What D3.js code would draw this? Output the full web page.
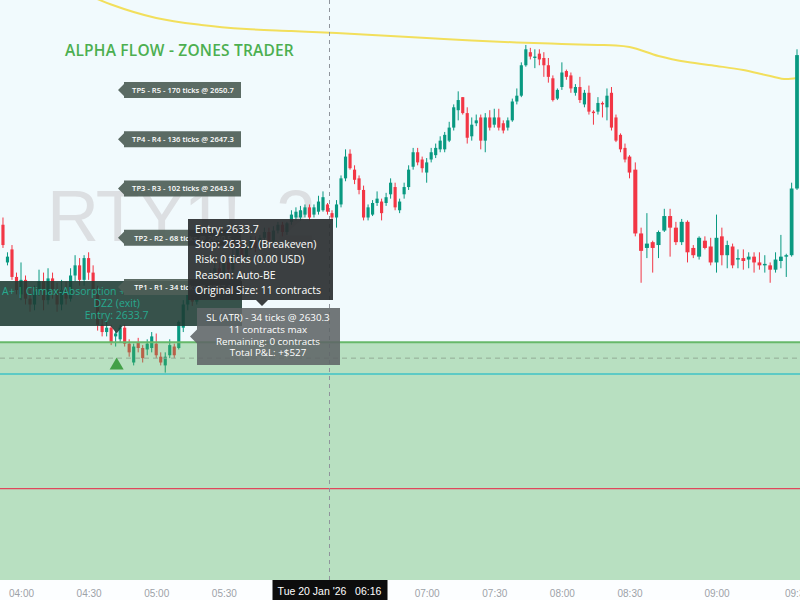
<!DOCTYPE html>
<html><head><meta charset="utf-8">
<script src="https://cdn.jsdelivr.net/npm/d3@7/dist/d3.min.js"></script>
<style>html,body{margin:0;padding:0;background:#f1fafd;}svg{display:block;}</style>
</head><body>
<svg id="chart" width="800" height="600"></svg>
<script>
// ---------------- DATA ----------------
const firstBar = "2026-01-20T03:52:00";
const barMinutes = 2;
const opens = [2641.4,2638.8,2639.7,2637.8,2636.6,2637.6,2636.3,2635.9,2636.8,2637.5,2636.2,2637.7,2636.9,2635.9,2636.9,2636.3,2637.9,2638.6,2637.6,2639.1,
2638.1,2636.9,2634.5,2634.0,2634.3,2633.7,2633.5,2634.3,2633.2,2631.9,2633.3,2632.9,2632.8,2632.9,2633.2,2632.3,2631.7,2632.4,2633.0,2632.9,
2634.3,2635.9,2636.6,2636.1,2637.0,2637.6,2636.9,2637.9,2638.4,2637.9,2638.8,2638.3,2639.3,2639.8,2639.2,2639.9,2640.3,2639.8,2640.5,2640.9,
2640.3,2641.0,2641.4,2640.9,2641.6,2641.9,2641.9,2642.1,2642.6,2642.1,2642.3,2642.4,2642.8,2642.2,2641.9,2642.8,2644.6,2646.3,2645.2,2644.6,
2643.8,2641.9,2642.1,2642.9,2643.0,2642.9,2643.5,2644.0,2642.4,2643.5,2644.0,2645.4,2646.4,2645.9,2645.0,2645.9,2646.2,2646.6,2646.6,2647.2,
2648.1,2649.3,2650.2,2649.1,2647.5,2648.4,2648.8,2647.2,2648.8,2648.3,2648.8,2648.4,2648.1,2648.6,2649.9,2650.3,2652.4,2653.3,2652.9,2653.2,
2652.9,2652.4,2651.5,2650.1,2650.9,2652.0,2651.7,2650.5,2650.9,2649.7,2650.5,2649.2,2649.2,2649.8,2649.5,2650.5,2648.8,2647.6,2646.7,2646.1,
2645.2,2640.8,2639.8,2640.2,2640.0,2641.0,2642.0,2641.2,2640.2,2641.6,2639.8,2639.2,2640.3,2639.9,2638.8,2640.6,2639.3,2639.9,2639.0,2639.1,
2639.0,2639.2,2638.8,2638.6,2638.6,2638.3,2638.9,2639.2,2639.3,2643.9];
const highs = [2641.9,2639.5,2640.0,2638.1,2638.8,2637.9,2636.9,2637.2,2638.3,2638.1,2638.4,2638.1,2637.4,2637.6,2637.5,2638.4,2639.3,2639.1,2639.3,2639.5,
2638.6,2637.2,2635.0,2634.7,2634.5,2634.1,2634.5,2634.5,2633.5,2633.2,2633.6,2633.1,2633.5,2634.0,2633.9,2632.6,2632.6,2633.5,2633.2,2634.8,
2636.2,2636.9,2636.9,2637.3,2637.9,2637.9,2638.3,2638.8,2638.8,2639.1,2639.1,2639.7,2640.1,2640.1,2640.2,2640.6,2640.6,2640.7,2641.2,2641.2,
2641.3,2641.6,2641.6,2641.6,2642.4,2642.6,2642.7,2642.8,2642.8,2642.8,2643.4,2643.7,2642.9,2642.4,2643.1,2644.8,2646.6,2646.6,2645.5,2644.8,
2644.1,2642.8,2643.1,2643.7,2643.2,2643.6,2644.6,2644.3,2643.2,2644.3,2645.5,2646.7,2646.7,2646.1,2646.0,2646.7,2647.0,2647.5,2647.8,2648.5,
2649.7,2650.6,2650.2,2649.5,2648.8,2649.0,2649.0,2649.1,2649.3,2649.4,2649.4,2648.6,2648.8,2650.1,2650.8,2652.6,2653.8,2653.6,2653.5,2653.5,
2653.3,2652.9,2651.7,2650.8,2652.6,2652.1,2651.9,2651.1,2651.6,2650.7,2651.0,2649.3,2650.2,2649.9,2650.8,2650.9,2649.0,2647.7,2647.0,2646.2,
2645.7,2641.2,2642.2,2640.3,2641.0,2642.5,2642.5,2641.6,2641.8,2641.7,2640.0,2640.6,2640.6,2640.5,2642.1,2641.2,2640.3,2640.1,2639.7,2639.7,
2639.5,2639.5,2639.5,2639.3,2638.8,2639.5,2640.7,2639.4,2644.3,2653.5];
const lows = [2639.8,2638.6,2637.6,2636.6,2636.2,2635.9,2635.4,2635.5,2636.5,2635.5,2635.9,2636.3,2635.4,2635.5,2635.9,2636.1,2637.5,2637.2,2637.2,2637.6,
2636.6,2634.1,2633.7,2633.7,2633.1,2633.0,2633.3,2633.0,2632.3,2631.7,2632.6,2631.9,2632.4,2632.6,2632.2,2631.7,2631.2,2632.2,2632.2,2632.8,
2634.0,2635.5,2635.8,2635.9,2636.8,2636.6,2636.7,2637.6,2637.6,2637.7,2638.0,2638.1,2639.1,2639.0,2639.0,2639.7,2639.5,2639.6,2640.2,2640.1,
2640.1,2640.8,2640.6,2640.7,2641.4,2641.7,2641.7,2641.9,2641.7,2641.9,2642.1,2642.3,2642.1,2641.7,2641.2,2642.6,2644.4,2645.2,2644.2,2643.5,
2641.7,2641.7,2642.0,2642.7,2641.7,2642.7,2643.2,2642.4,2642.2,2643.2,2643.8,2645.2,2645.5,2645.0,2644.3,2645.7,2646.0,2646.4,2646.4,2647.1,
2647.9,2648.6,2649.0,2647.0,2647.2,2648.2,2646.6,2646.4,2647.9,2648.1,2647.9,2647.7,2647.9,2648.5,2649.7,2650.2,2652.3,2652.8,2652.2,2652.4,
2651.6,2651.2,2649.9,2650.0,2650.7,2651.4,2650.5,2650.3,2649.8,2649.5,2649.0,2648.3,2649.0,2648.8,2648.6,2647.9,2647.1,2646.4,2645.7,2644.6,
2640.6,2637.4,2639.1,2638.1,2639.1,2640.9,2639.2,2640.0,2640.0,2638.8,2639.1,2639.0,2639.7,2638.6,2638.1,2638.6,2638.4,2638.4,2638.4,2638.3,
2638.4,2638.1,2638.3,2638.1,2637.4,2638.1,2638.4,2637.8,2639.2,2643.8];
const closes = [2640.0,2639.2,2637.8,2636.9,2637.6,2636.3,2635.9,2636.8,2637.5,2636.2,2637.7,2636.9,2635.9,2636.9,2636.3,2637.9,2638.6,2637.6,2639.1,2638.1,
2636.9,2634.5,2634.0,2634.3,2633.3,2633.9,2634.3,2633.2,2632.6,2633.0,2632.9,2632.2,2633.2,2633.7,2632.4,2631.9,2632.3,2633.1,2632.4,2634.7,
2635.9,2636.6,2636.1,2637.0,2637.6,2636.9,2637.9,2638.4,2637.9,2638.8,2638.3,2639.3,2639.8,2639.2,2639.9,2640.3,2639.8,2640.5,2640.9,2640.3,
2641.0,2641.4,2640.9,2641.5,2642.1,2642.3,2642.4,2642.6,2641.9,2642.6,2643.0,2643.3,2642.3,2641.9,2642.8,2644.6,2646.1,2645.3,2644.5,2643.8,
2641.9,2642.6,2642.9,2643.2,2642.2,2643.3,2644.3,2642.6,2643.0,2644.0,2645.2,2646.4,2645.7,2645.3,2645.7,2646.4,2646.7,2647.2,2647.6,2648.1,
2649.5,2650.0,2649.1,2647.4,2648.3,2648.6,2647.2,2648.8,2648.1,2648.8,2648.1,2647.9,2648.6,2649.9,2650.3,2652.4,2653.5,2653.0,2653.0,2652.8,
2652.4,2651.6,2650.0,2650.7,2651.9,2651.6,2650.8,2650.9,2650.0,2650.5,2649.2,2649.1,2649.8,2649.7,2650.3,2648.1,2647.2,2646.6,2645.9,2645.0,
2640.8,2639.6,2640.1,2639.8,2640.9,2642.0,2641.2,2640.2,2641.6,2639.5,2639.3,2640.5,2639.8,2638.8,2640.5,2639.3,2640.0,2638.6,2639.1,2638.9,
2639.2,2638.8,2638.6,2638.7,2638.3,2639.0,2639.2,2639.3,2643.9,2653.1];

const axisTicks = ["04:00","04:30","05:00","05:30","06:00","06:30","07:00","07:30","08:00","08:30","09:00","09:30"];
const crosshairTime = "06:16";
const crosshairLabel = "Tue 20 Jan '26";

const emaTimes = ["04:20","04:40","05:00","05:20","05:40","06:00","06:20","06:40","07:00","07:20","07:40","08:00","08:16","08:24","08:30","08:40","08:50","09:00","09:10","09:20","09:26","09:30"];
const emaValues = [2657.93,2656.59,2655.66,2655.18,2654.90,2654.76,2654.62,2654.45,2654.28,2654.11,2653.97,2653.87,2653.80,2653.76,2653.66,2653.04,2652.62,2652.35,2652.07,2651.66,2651.45,2651.52];

const tpNames = ["TP1 - R1 - 34 ticks @ 2637.1","TP2 - R2 - 68 ticks @ 2640.5","TP3 - R3 - 102 ticks @ 2643.9","TP4 - R4 - 136 ticks @ 2647.3","TP5 - R5 - 170 ticks @ 2650.7"];
const tpPrices = [2637.1,2640.5,2643.9,2647.3,2650.7];
const entryPrice = 2633.7;
const signalTime = "04:42";
const zoneTop = 2633.3, zoneDashed = 2632.2, stopLevel = 2631.1, lowerLevel = 2623.2;
const signalLines = ["A+ | Climax-Absorption +","DZ2 (exit)","Entry: 2633.7"];
const tooltipLines = ["Entry: 2633.7","Stop: 2633.7 (Breakeven)","Risk: 0 ticks (0.00 USD)","Reason: Auto-BE","Original Size: 11 contracts"];
const slLines = ["SL (ATR) - 34 ticks @ 2630.3","11 contracts max","Remaining: 0 contracts","Total P&L: +$527"];
const titleText = "ALPHA FLOW - ZONES TRADER";
const watermarkText = "RTY1!, 2";

// ---------------- CHART ----------------
const W = 800, H = 600, plotH = 580;
const svg = d3.select("#chart");
const day = "2026-01-20T";
const T = s => new Date(day + s + ":00");
const start = new Date(firstBar);
const times = opens.map((_, i) => new Date(start.getTime() + i * barMinutes * 60000));
const candles = opens.map((o, i) => ({t: times[i], o, h: highs[i], l: lows[i], c: closes[i]}));

const x = d3.scaleTime()
  .domain([T("04:00"), T("08:30"), T("09:00"), T("09:30")])
  .range([21, 629.5, 716.5, 797]);
const y = d3.scaleLinear().domain([2616.9, 2656.9]).range([plotH, 0]);

const GREEN = "#089981", RED = "#f23645";

svg.append("defs").append("clipPath").attr("id", "plot")
  .append("rect").attr("x", 0).attr("y", 0).attr("width", W).attr("height", plotH);

svg.append("rect").attr("width", W).attr("height", plotH).attr("fill", "#f1fafd");
svg.append("rect").attr("y", plotH).attr("width", W).attr("height", H - plotH).attr("fill", "#fcfeff");

const plot = svg.append("g").attr("clip-path", "url(#plot)");

// watermark
plot.append("text").attr("x", 47).attr("y", 241)
  .attr("font-family", "Liberation Sans, Arial, sans-serif").attr("font-size", 72)
  .attr("letter-spacing", -2)
  .attr("fill", "#dcdfe2").text(watermarkText);

// EMA line
plot.append("path")
  .datum(emaTimes.map((t, i) => [T(t), emaValues[i]]))
  .attr("fill", "none").attr("stroke", "#f2df5c").attr("stroke-width", 2)
  .attr("d", d3.line().x(d => x(d[0])).y(d => y(d[1])).curve(d3.curveMonotoneX));

// candles
const half = 60000;
const cg = plot.append("g");
candles.forEach(d => {
  const pitch = x(new Date(d.t.getTime() + half)) - x(new Date(d.t.getTime() - half));
  const w = Math.max(2, pitch * 0.7);
  const cx = x(d.t);
  const col = d.c >= d.o ? GREEN : RED;
  cg.append("line").attr("x1", cx).attr("x2", cx).attr("y1", y(d.h)).attr("y2", y(d.l))
    .attr("stroke", col).attr("stroke-width", 1);
  const top = y(Math.max(d.o, d.c)), bot = y(Math.min(d.o, d.c));
  cg.append("rect").attr("x", cx - w / 2).attr("y", top).attr("width", w)
    .attr("height", Math.max(1, bot - top)).attr("fill", col);
});

// zone
plot.append("rect").attr("x", 0).attr("y", y(zoneTop)).attr("width", W).attr("height", plotH - y(zoneTop))
  .attr("fill", "#4caf50").attr("fill-opacity", 0.35);
plot.append("line").attr("x1", 0).attr("x2", W).attr("y1", y(zoneTop)).attr("y2", y(zoneTop))
  .attr("stroke", "#66b86a").attr("stroke-width", 2);
plot.append("line").attr("x1", 0).attr("x2", W).attr("y1", y(zoneDashed)).attr("y2", y(zoneDashed))
  .attr("stroke", "#93ab96").attr("stroke-width", 1).attr("stroke-dasharray", "5,4");
plot.append("line").attr("x1", 0).attr("x2", W).attr("y1", y(stopLevel)).attr("y2", y(stopLevel))
  .attr("stroke", "#3fc3c6").attr("stroke-width", 1.5);
plot.append("line").attr("x1", 0).attr("x2", W).attr("y1", y(lowerLevel)).attr("y2", y(lowerLevel))
  .attr("stroke", "#e0475c").attr("stroke-width", 1.2);

// crosshair
const chX = x(T(crosshairTime)) + 2;
plot.append("line").attr("x1", chX).attr("x2", chX).attr("y1", 0).attr("y2", plotH)
  .attr("stroke", "#8f949c").attr("stroke-width", 1).attr("stroke-dasharray", "4,4");

// title
svg.append("text").attr("x", 65).attr("y", 56)
  .attr("font-family", "Open Sans, sans-serif").attr("font-weight", 600).attr("font-size", 15.5)
  .attr("letter-spacing", 0.2)
  .attr("fill", "#4caf50").text(titleText);

// signal label (dark)
const sx = x(T(signalTime)) + 1, sy = y(entryPrice);
svg.append("path")
  .attr("d", `M-6,281 H242 V326 H${sx + 6} L${sx},${sy - 3} L${sx - 6},326 H-6 Z`)
  .attr("fill", "#1d3a32").attr("fill-opacity", 0.88);
signalLines.forEach((s, i) => {
  svg.append("text").attr("x", i === 0 ? 2 : sx).attr("y", 295 + i * 12)
    .attr("text-anchor", i === 0 ? "start" : "middle")
    .attr("font-family", "Open Sans, sans-serif").attr("font-size", 10.5)
    .attr("fill", "#27a98f").text(s);
});

// TP labels
tpPrices.forEach((p, i) => {
  const ty = y(p);
  const g = svg.append("g");
  g.append("path")
    .attr("d", `M118,${ty} L124,${ty - 6} L124,${ty - 8} H241 V${ty + 8} H124 V${ty + 6} Z`)
    .attr("fill", "#4e5e57").attr("fill-opacity", 0.92);
  g.append("text").attr("x", 183).attr("y", ty + 2.8).attr("text-anchor", "middle")
    .attr("font-family", "Open Sans, sans-serif").attr("font-size", 7.6).attr("font-weight", 600)
    .attr("fill", "#ffffff").text(tpNames[i]);
});

// buy triangle
svg.append("path").attr("d", d3.symbol().type(d3.symbolTriangle).size(85)())
  .attr("transform", `translate(${sx},${365.5})`).attr("fill", "#43a047");

// tooltip
svg.append("path")
  .attr("d", "M188,219 H333 V300 H268 L262,306 L256,300 H188 Z")
  .attr("fill", "#2b2f31").attr("fill-opacity", 0.92);
tooltipLines.forEach((s, i) => {
  svg.append("text").attr("x", 195).attr("y", 233 + i * 15.2)
    .attr("font-family", "Open Sans, sans-serif").attr("font-size", 10.5)
    .attr("fill", "#ffffff").text(s);
});

// SL box
const ey = y(entryPrice);
svg.append("path")
  .attr("d", `M190,${ey} L197,${ey - 7} V308 H340 V365 H197 V${ey + 7} Z`)
  .attr("fill", "#5f6466").attr("fill-opacity", 0.88);
slLines.forEach((s, i) => {
  svg.append("text").attr("x", 268).attr("y", 321 + i * 11.8).attr("text-anchor", "middle")
    .attr("font-family", "Open Sans, sans-serif").attr("font-size", 9.8)
    .attr("fill", "#ffffff").text(s);
});

// x axis
const fmt = d3.timeFormat("%H:%M");
const ax = svg.append("g").attr("transform", `translate(0,${plotH})`)
  .call(d3.axisBottom(x).tickValues(axisTicks.map(T)).tickFormat(fmt).tickSize(0).tickPadding(10));
ax.select(".domain").remove();
ax.selectAll("text").attr("font-family", "Liberation Sans, Arial, sans-serif").attr("font-size", 10).attr("fill", "#9da2a8");

// crosshair date label
svg.append("rect").attr("x", chX - 57).attr("y", plotH).attr("width", 115).attr("height", 20).attr("fill", "#0d0d0d");
svg.append("text").attr("x", chX).attr("y", 595).attr("text-anchor", "middle")
  .attr("font-family", "Liberation Sans, Arial, sans-serif").attr("font-size", 10.5).attr("fill", "#ffffff")
  .attr("xml:space", "preserve").text(crosshairLabel + "   " + fmt(T(crosshairTime)));
</script>
</body></html>
